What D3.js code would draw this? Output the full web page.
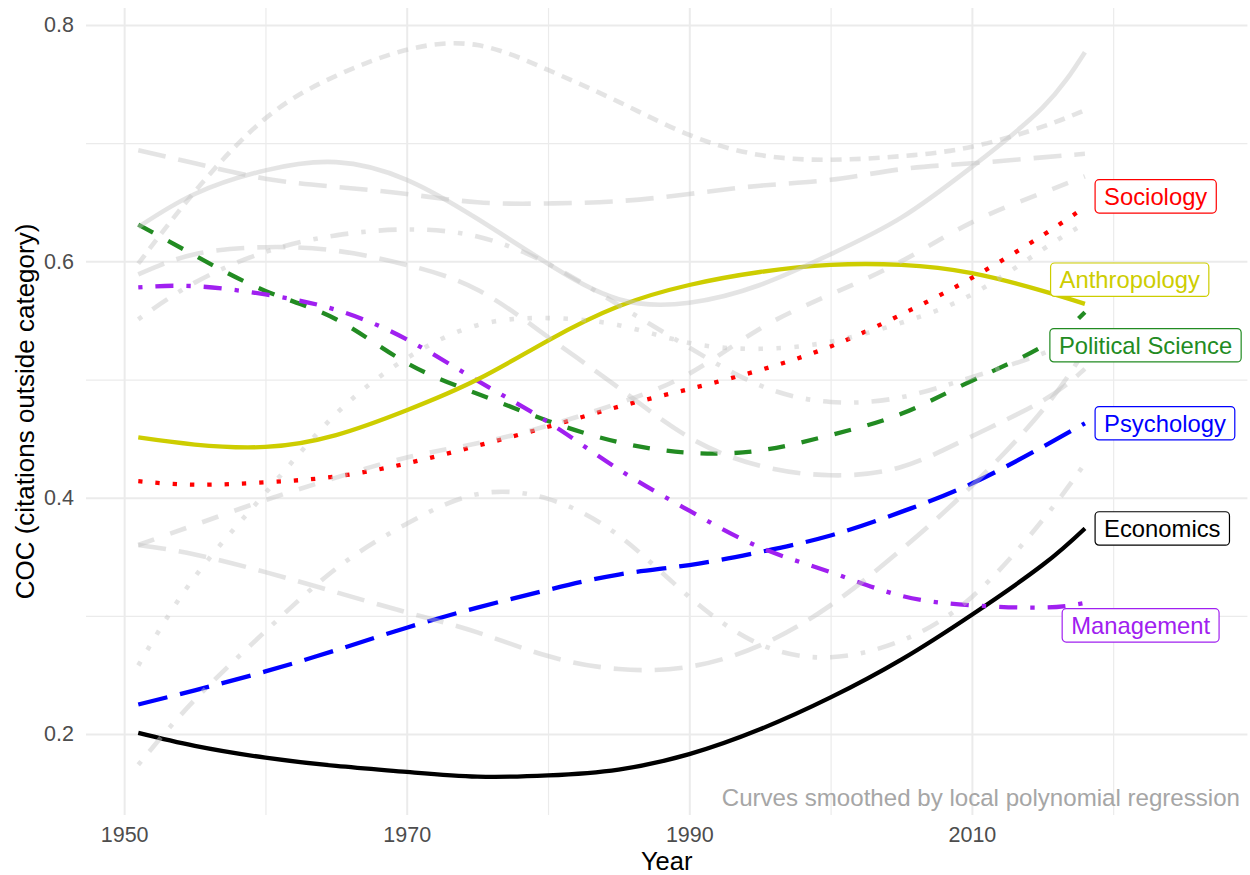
<!DOCTYPE html>
<html>
<head>
<meta charset="utf-8">
<script src="https://cdn.jsdelivr.net/npm/d3@7"></script>
<style>
  body { margin: 0; background: #ffffff; }
  svg { display: block; }
  text { font-family: "Liberation Sans", Arial, Helvetica, sans-serif; }
</style>
</head>
<body>
<svg id="chart" width="1250" height="875"></svg>
<script>
// ---- data: smoothed share of citations going outside each field's own category ----
const years = [1951, 1955, 1960, 1965, 1970, 1975, 1980, 1985, 1990, 1995, 2000, 2005, 2010, 2015, 2018];

// highlighted disciplines
const economics        = [0.201, 0.190, 0.180, 0.173, 0.168, 0.164, 0.165, 0.170, 0.183, 0.204, 0.231, 0.263, 0.301, 0.343, 0.374];
const psychology       = [0.225, 0.237, 0.253, 0.271, 0.290, 0.307, 0.322, 0.335, 0.343, 0.354, 0.368, 0.388, 0.412, 0.443, 0.463];
const politicalScience = [0.631, 0.605, 0.575, 0.551, 0.514, 0.488, 0.465, 0.447, 0.438, 0.440, 0.453, 0.471, 0.499, 0.528, 0.557];
const management       = [0.578, 0.579, 0.572, 0.559, 0.534, 0.499, 0.464, 0.424, 0.389, 0.358, 0.337, 0.317, 0.309, 0.307, 0.311];
const anthropology     = [0.451, 0.445, 0.443, 0.453, 0.474, 0.500, 0.533, 0.562, 0.580, 0.591, 0.597, 0.597, 0.590, 0.575, 0.564];
const sociology        = [0.414, 0.411, 0.413, 0.418, 0.429, 0.444, 0.460, 0.477, 0.492, 0.508, 0.528, 0.555, 0.586, 0.622, 0.646];

// remaining fields, drawn as a light background
const fieldA = [0.598, 0.659, 0.721, 0.757, 0.779, 0.783, 0.762, 0.735, 0.707, 0.690, 0.686, 0.689, 0.697, 0.714, 0.728];
const fieldB = [0.694, 0.683, 0.670, 0.663, 0.657, 0.650, 0.649, 0.651, 0.657, 0.664, 0.669, 0.678, 0.683, 0.688, 0.691];
const fieldC = [0.629, 0.657, 0.677, 0.684, 0.669, 0.636, 0.598, 0.568, 0.565, 0.580, 0.606, 0.637, 0.680, 0.730, 0.777];
const fieldD = [0.551, 0.582, 0.608, 0.622, 0.627, 0.621, 0.598, 0.563, 0.527, 0.495, 0.481, 0.485, 0.502, 0.522, 0.541];
const fieldE = [0.589, 0.606, 0.612, 0.609, 0.597, 0.576, 0.536, 0.493, 0.451, 0.427, 0.419, 0.426, 0.452, 0.482, 0.509];
const fieldF = [0.360, 0.352, 0.337, 0.320, 0.303, 0.286, 0.266, 0.255, 0.257, 0.275, 0.309, 0.356, 0.410, 0.474, 0.525];
const fieldG = [0.360, 0.377, 0.398, 0.417, 0.434, 0.446, 0.461, 0.480, 0.505, 0.543, 0.572, 0.600, 0.633, 0.658, 0.672];
const fieldH = [0.258, 0.333, 0.404, 0.471, 0.518, 0.546, 0.552, 0.546, 0.531, 0.526, 0.532, 0.548, 0.572, 0.610, 0.632];
const fieldI = [0.174, 0.229, 0.287, 0.340, 0.378, 0.403, 0.399, 0.368, 0.316, 0.276, 0.265, 0.279, 0.316, 0.381, 0.429];

// axis ticks
const xMajorTicks = [1950, 1970, 1990, 2010];
const xMinorTicks = [1960, 1980, 2000, 2020];
const yMajorTicks = [0.2, 0.4, 0.6, 0.8];
const yMinorTicks = [0.3, 0.5, 0.7];

// ---- series assembled from the arrays above ----
const highlighted = [
  { name: "Economics",         values: economics },
  { name: "Psychology",        values: psychology },
  { name: "Political Science", values: politicalScience },
  { name: "Management",        values: management },
  { name: "Anthropology",      values: anthropology },
  { name: "Sociology",         values: sociology }
];
const background = [fieldA, fieldB, fieldC, fieldD, fieldE, fieldF, fieldG, fieldH, fieldI];

// ---- styling ----
const highlightStyle = {
  "Economics":         { color: "#000000", dash: null },
  "Psychology":        { color: "#0000ff", dash: "30 13" },
  "Political Science": { color: "#228b22", dash: "17 17" },
  "Management":        { color: "#a020f0", dash: "4.3 13 18 13" },
  "Anthropology":      { color: "#cdcd00", dash: null },
  "Sociology":         { color: "#ff0000", dash: "4.3 13" }
};
const backgroundDash = ["11 8", "28 13", null, "4.5 13 18 13", "28 13", "28 13", "17 17", "4.5 13.5", "4.5 13 18 13"];

// where each label box sits: [year of left edge, value at vertical centre]
const labelPlacement = {
  "Sociology":         [2018.72, 0.655],
  "Anthropology":      [2015.57, 0.5845],
  "Political Science": [2015.52, 0.529],
  "Psychology":        [2018.72, 0.463],
  "Economics":         [2018.72, 0.374],
  "Management":        [2016.39, 0.292]
};

// ---- layout ----
const svg = d3.select("#chart");
const panel = { left: 86, right: 1247.4, top: 8, bottom: 815 };

const x = d3.scaleLinear().domain([1947.3, 2029.5]).range([panel.left, panel.right]);
const y = d3.scaleLinear().domain([0.1315, 0.8144]).range([panel.bottom, panel.top]);

const gridColor = "#ebebeb";
const tickColor = "#4d4d4d";

// minor grid
svg.append("g")
  .attr("transform", `translate(0,${panel.bottom})`)
  .call(d3.axisBottom(x).tickValues(xMinorTicks).tickSize(-(panel.bottom - panel.top)).tickFormat(""))
  .call(g => g.select(".domain").remove())
  .call(g => g.selectAll("line").attr("stroke", gridColor).attr("stroke-width", 1.2));
svg.append("g")
  .attr("transform", `translate(${panel.left},0)`)
  .call(d3.axisLeft(y).tickValues(yMinorTicks).tickSize(-(panel.right - panel.left)).tickFormat(""))
  .call(g => g.select(".domain").remove())
  .call(g => g.selectAll("line").attr("stroke", gridColor).attr("stroke-width", 1.2));

// major grid with tick labels
svg.append("g")
  .attr("transform", `translate(0,${panel.bottom})`)
  .call(d3.axisBottom(x).tickValues(xMajorTicks).tickSize(-(panel.bottom - panel.top)).tickPadding(12).tickFormat(d3.format("d")))
  .call(g => g.select(".domain").remove())
  .call(g => g.selectAll("line").attr("stroke", gridColor).attr("stroke-width", 2))
  .call(g => g.selectAll("text").attr("fill", tickColor).style("font-size", "21.5px")
    .style("font-family", '"Liberation Sans", Arial, sans-serif'));
svg.append("g")
  .attr("transform", `translate(${panel.left},0)`)
  .call(d3.axisLeft(y).tickValues(yMajorTicks).tickSize(-(panel.right - panel.left)).tickPadding(12).tickFormat(d3.format(".1f")))
  .call(g => g.select(".domain").remove())
  .call(g => g.selectAll("line").attr("stroke", gridColor).attr("stroke-width", 2))
  .call(g => g.selectAll("text").attr("fill", tickColor).style("font-size", "21.5px")
    .style("font-family", '"Liberation Sans", Arial, sans-serif'));

// axis titles
svg.append("text")
  .attr("x", (panel.left + panel.right) / 2).attr("y", 870)
  .attr("text-anchor", "middle").attr("fill", "#000").style("font-size", "25.5px")
  .text("Year");
svg.append("text")
  .attr("transform", `translate(34,${(panel.top + panel.bottom) / 2}) rotate(-90)`)
  .attr("text-anchor", "middle").attr("fill", "#000").style("font-size", "26px")
  .text("COC (citations outside category)");

// curves
const line = d3.line()
  .x(d => x(d.year))
  .y(d => y(d.value))
  .curve(d3.curveNatural);
const toPoints = vals => years.map((yr, i) => ({ year: yr, value: vals[i] }));

const curves = svg.append("g").attr("fill", "none");

curves.selectAll("path.field")
  .data(highlighted)
  .join("path")
  .attr("class", "field")
  .attr("d", d => line(toPoints(d.values)))
  .attr("stroke", d => highlightStyle[d.name].color)
  .attr("stroke-width", 4.3)
  .attr("stroke-dasharray", d => highlightStyle[d.name].dash)
  .attr("stroke-linecap", "butt");

curves.selectAll("path.other")
  .data(background)
  .join("path")
  .attr("class", "other")
  .attr("d", d => line(toPoints(d)))
  .attr("stroke", "#c4c4c4")
  .attr("stroke-opacity", 0.45)
  .attr("stroke-width", 4.6)
  .attr("stroke-dasharray", (d, i) => backgroundDash[i])
  .attr("stroke-linecap", "butt");

// note in the lower right corner
svg.append("text")
  .attr("x", 1240).attr("y", 806)
  .attr("text-anchor", "end").attr("fill", "#a6a6a6").style("font-size", "24.1px")
  .text("Curves smoothed by local polynomial regression");

// labelled boxes at the end of each highlighted curve
const labelFont = 23.8, padX = 9, boxH = 33.4;
const labels = svg.append("g").selectAll("g")
  .data(highlighted)
  .join("g")
  .attr("transform", d => `translate(${x(labelPlacement[d.name][0])},${y(labelPlacement[d.name][1])})`);

labels.each(function (d) {
  const g = d3.select(this);
  const col = highlightStyle[d.name].color;
  const rect = g.append("rect")
    .attr("y", -boxH / 2).attr("height", boxH)
    .attr("rx", 4).attr("ry", 4)
    .attr("fill", "#ffffff").attr("stroke", col).attr("stroke-width", 1.2);
  const t = g.append("text")
    .attr("x", padX).attr("y", labelFont * 0.36)
    .attr("fill", col).style("font-size", labelFont + "px")
    .text(d.name);
  const w = t.node().getComputedTextLength();
  rect.attr("width", w + 2 * padX);
});
</script>
</body>
</html>
